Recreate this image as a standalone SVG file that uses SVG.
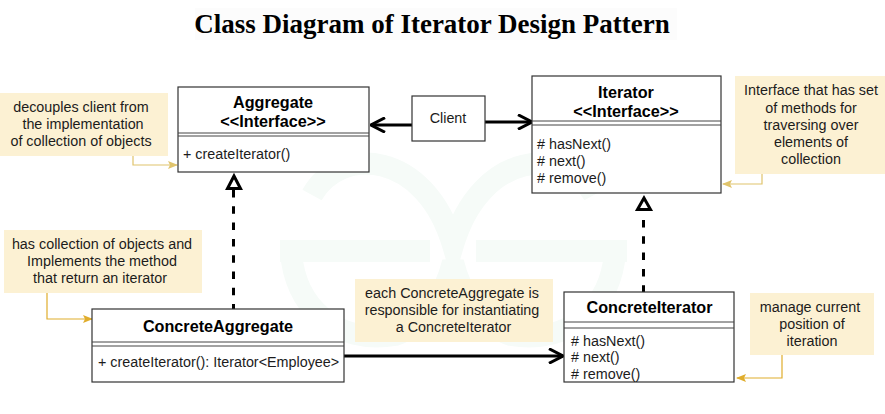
<svg xmlns="http://www.w3.org/2000/svg" width="885" height="414" viewBox="0 0 885 414">
<style>
text{font-family:"Liberation Sans",Arial,sans-serif;fill:#1c1c1c;font-size:14.35px}
.c{text-anchor:middle}
.b{font-weight:bold;font-size:16.2px;fill:#000}
.t{font-family:"Liberation Serif","Times New Roman",serif;font-weight:bold;font-size:27px;fill:#000}
.box{fill:#fff;stroke:#333;stroke-width:1.2}
.sep{stroke:#444;stroke-width:1;fill:none}
.note{fill:#fcf1d3}
.strong{fill:none;stroke:#000;stroke-width:3}
.dash{fill:none;stroke:#000;stroke-width:3;stroke-dasharray:7.5 8.8}
.tri{fill:#fff;stroke:#000;stroke-width:3}
.lead{fill:none;stroke:#e0c46c;stroke-width:1.2}
.lead2{fill:none;stroke:#e0ad2c;stroke-width:1.2}
.wm{fill:none;stroke:#f6fbf8;stroke-width:22}
</style>
<defs>
<marker id="open" viewBox="0 0 12 12" refX="11" refY="6" markerWidth="16" markerHeight="16" markerUnits="userSpaceOnUse" orient="auto"><path d="M.5 .5L11 6L.5 11.5" fill="none" stroke="#000" stroke-width="2.2"/></marker>
<marker id="lh" viewBox="0 0 10 10" refX="9" refY="5" markerWidth="10" markerHeight="10" markerUnits="userSpaceOnUse" orient="auto"><path d="M0 1L10 5L0 9L2 5Z" fill="#e0c46c"/></marker>
<marker id="lh2" viewBox="0 0 10 10" refX="9" refY="5" markerWidth="10" markerHeight="10" markerUnits="userSpaceOnUse" orient="auto"><path d="M0 1L10 5L0 9L2 5Z" fill="#e0ad2c"/></marker>
</defs>
<rect width="885" height="414" fill="#fff"/>
<path class="wm" d="M312 195C340 145 425 150 453 245C481 150 566 145 594 195M280 251H430M476 251H627M291 251C294 305 335 345 395 335C425 325 445 295 453 262C461 295 481 325 511 335C571 345 612 305 615 251"/>
<rect x="195" y="8" width="482" height="32" fill="#fcfcfc"/>
<text class="t c" x="432" y="33">Class Diagram of Iterator Design Pattern</text>
<g id="connectors">
<path class="strong" d="M412 125H371" marker-end="url(#open)"/>
<path class="strong" d="M485 122H532" marker-end="url(#open)"/>
<path class="strong" d="M344 356H563" marker-end="url(#open)"/>
<path class="dash" d="M233.5 190V310"/>
<path class="tri" d="M234 176L227.5 188.5H240.5Z"/>
<path class="dash" d="M643.5 220V293"/>
<path class="tri" d="M644 198L637.5 209.5H650.5Z"/>
<path class="lead" d="M133 156V165H177" marker-end="url(#lh)"/>
<path class="lead" d="M762 174V184H723" marker-end="url(#lh)"/>
<path class="lead2" d="M47 293V319H92" marker-end="url(#lh2)"/>
<path class="lead2" d="M782 355V378H737" marker-end="url(#lh2)"/>
</g>
<g id="aggregate"><rect class="box" x="178" y="87" width="191" height="85"/><path class="sep" d="M178 133H369M178 136H369"/><text class="b c" x="273" y="108">Aggregate</text><text class="b c" x="273" y="127">&lt;&lt;Interface&gt;&gt;</text><text x="183" y="159">+ createIterator()</text></g>
<g id="client"><rect class="box" x="412" y="96" width="73" height="45"/><text class="c" x="448" y="123">Client</text></g>
<g id="iterator"><rect class="box" x="532" y="76" width="189" height="117"/><path class="sep" d="M532 121H721M532 125H721"/><text class="b c" x="626" y="98">Iterator</text><text class="b c" x="626" y="117">&lt;&lt;Interface&gt;&gt;</text><text x="537" y="149">#&#160;hasNext()</text><text x="537" y="166">#&#160;next()</text><text x="537" y="183">#&#160;remove()</text></g>
<g id="concrete-aggregate"><rect class="box" x="92" y="309" width="252" height="73"/><path class="sep" d="M92 342H344M92 346H344"/><text class="b c" x="218" y="332">ConcreteAggregate</text><text x="98" y="367">+ createIterator(): Iterator&lt;Employee&gt;</text></g>
<g id="concrete-iterator"><rect class="box" x="564" y="292" width="170" height="90"/><path class="sep" d="M564 322H734M564 328H734"/><text class="b c" x="649.5" y="313">ConcreteIterator</text><text x="571" y="346">#&#160;hasNext()</text><text x="571" y="362">#&#160;next()</text><text x="571" y="379">#&#160;remove()</text></g>
<g id="note-decouples"><rect class="note" x="0" y="93" width="168" height="63"/><text class="c" x="81" y="112">decouples client from</text><text class="c" x="83" y="129">the implementation</text><text class="c" x="81" y="146">of collection of objects</text></g>
<g id="note-interface"><rect class="note" x="735" y="76" width="150" height="98"/><text class="c" x="811" y="95">Interface that has set</text><text class="c" x="811" y="113">of methods for</text><text class="c" x="811" y="130">traversing over</text><text class="c" x="811" y="147">elements of</text><text class="c" x="811" y="164">collection</text></g>
<g id="note-collection"><rect class="note" x="4" y="230" width="198" height="63"/><text class="c" x="102" y="249">has collection of objects and</text><text class="c" x="102" y="266">Implements the method</text><text class="c" x="100" y="283">that return an iterator</text></g>
<g id="note-each"><rect class="note" x="355" y="279" width="198" height="63"/><text class="c" x="452" y="298">each ConcreteAggregate is</text><text class="c" x="452" y="315">responsible for instantiating</text><text class="c" x="453.5" y="332">a ConcreteIterator</text></g>
<g id="note-manage"><rect class="note" x="750" y="293" width="124" height="62"/><text class="c" x="810" y="312">manage current</text><text class="c" x="812" y="329">position of</text><text class="c" x="812" y="346">iteration</text></g>
</svg>
